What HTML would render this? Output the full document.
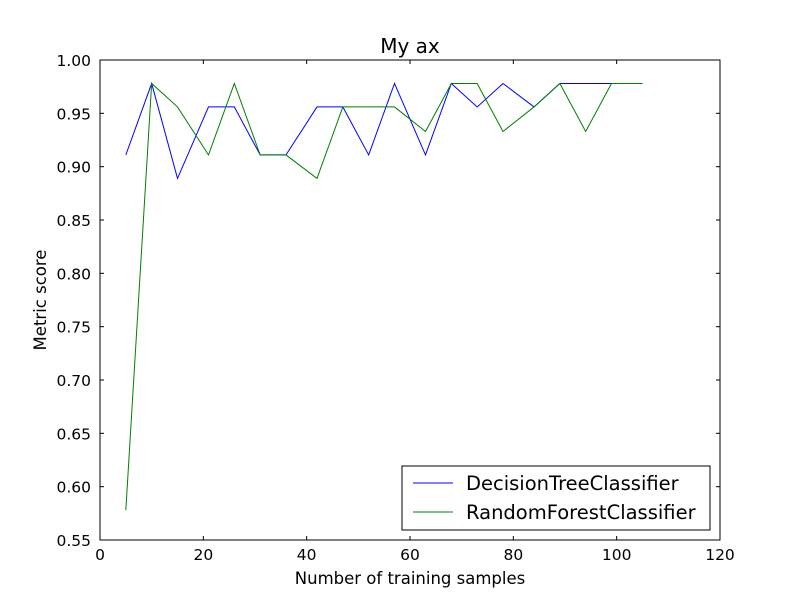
<!DOCTYPE html>
<html><head><meta charset="utf-8"><style>body{margin:0;background:#fff}svg text{font-family:"DejaVu Sans","Liberation Sans",sans-serif}</style></head>
<body>
<svg id="c" width="800" height="600" xmlns="http://www.w3.org/2000/svg">
<rect width="800" height="600" fill="#fff"/>
</svg>
<script>
const xs=[5,10,15,21,26,31,36,42,47,52,57,63,68,73,78,84,89,94,99,105];
const dt=[0.911,0.978,0.889,0.956,0.956,0.911,0.911,0.956,0.956,0.911,0.978,0.911,0.978,0.956,0.978,0.956,0.978,0.978,0.978,0.978];
const rf=[0.578,0.978,0.956,0.911,0.978,0.911,0.911,0.889,0.956,0.956,0.956,0.933,0.978,0.978,0.933,0.956,0.978,0.933,0.978,0.978];
const xticks=[0,20,40,60,80,100,120];
const yticks=[0.55,0.60,0.65,0.70,0.75,0.80,0.85,0.90,0.95,1.00];
const L=100,R=720,T=60,B=540;
const X=v=>L+(v-0)/120*(R-L);
const Y=v=>B-(v-0.55)/0.45*(B-T);
const svg=document.getElementById('c');
const NS='http://www.w3.org/2000/svg';
function mk(t,a,p){const e=document.createElementNS(NS,t);for(const k in a)e.setAttribute(k,a[k]);(p||svg).appendChild(e);return e;}
function line(pts,color,name){const e=mk('polyline',{points:pts.map(p=>p.join(',')).join(' '),fill:'none',stroke:color,'stroke-width':1});

}
line(xs.map((x,i)=>[X(x),Y(dt[i])]),'#0000ff','decision-tree-line');
line(xs.map((x,i)=>[X(x),Y(rf[i])]),'#008000','random-forest-line');
const fr=mk('rect',{x:L,y:T,width:R-L,height:B-T,fill:'none',stroke:'#000'});


xticks.forEach(v=>{const x=X(v);mk('line',{x1:x,x2:x,y1:B,y2:B-4,stroke:'#000'});mk('line',{x1:x,x2:x,y1:T,y2:T+4,stroke:'#000'});
const t=mk('text',{x:x,y:B+20,'text-anchor':'middle','font-size':15.5});t.textContent=v;

});
yticks.forEach(v=>{const y=Y(v);mk('line',{x1:L,x2:L+4,y1:y,y2:y,stroke:'#000'});mk('line',{x1:R,x2:R-4,y1:y,y2:y,stroke:'#000'});
const t=mk('text',{x:L-9,y:y+6,'text-anchor':'end','font-size':15.5});t.textContent=v.toFixed(2);

});
let t=mk('text',{x:410,y:53,'text-anchor':'middle','font-size':20});t.textContent='My ax';


t=mk('text',{x:410,y:584,'text-anchor':'middle','font-size':16.5});t.textContent='Number of training samples';


t=mk('text',{x:46,y:300,'text-anchor':'middle','font-size':16.5,transform:'rotate(-90 46 300)'});t.textContent='Metric score';


const lg=mk('g',{});


mk('rect',{x:402,y:466,width:308,height:64,fill:'#fff',stroke:'#000'},lg);
[['DecisionTreeClassifier','#0000ff',483],['RandomForestClassifier','#008000',512]].forEach(([n,c,y])=>{
mk('line',{x1:413,x2:453,y1:y,y2:y,stroke:c},lg);
const tt=mk('text',{x:466,y:y+7,'font-size':19.5},lg);tt.textContent=n;

});
</script>
</body></html>
